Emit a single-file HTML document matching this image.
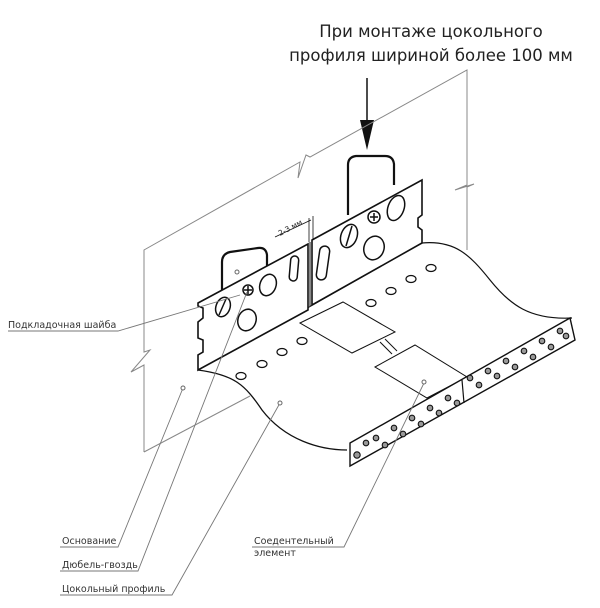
<!DOCTYPE html>
<html><head><meta charset="utf-8"><style>
html,body{margin:0;padding:0;background:#fff;width:600px;height:608px;overflow:hidden}
svg{display:block}
text{font-family:"DejaVu Sans","Liberation Sans",sans-serif}
</style></head><body>
<svg width="600" height="608" viewBox="0 0 600 608" xmlns="http://www.w3.org/2000/svg">
<text x="431" y="37" font-size="16.5" text-anchor="middle" fill="#222">При монтаже цокольного</text>
<text x="431" y="61" font-size="16.5" text-anchor="middle" fill="#222">профиля шириной более 100 мм</text>
<line x1="367" y1="78" x2="367" y2="125" stroke="#111" stroke-width="1.5"/>
<polygon points="360,120 374,120 367,150" fill="#111"/>
<g fill="none" stroke="#888" stroke-width="1">
<polyline points="144,452 144,365 131,372 150,350 144,352 144,250 300,162 298,178 306,155 310,157 467,70 467,185 455,190 474,184 467,187 467,250"/>
<line x1="144" y1="452" x2="250" y2="396"/>
</g>
<path d="M198,370 C235,375 245,385 262,410 C285,440 320,450 347,450" fill="none" stroke="#111" stroke-width="1.3"/>
<path d="M422,243 C455,240 470,255 490,280 C510,305 530,320 572,318" fill="none" stroke="#111" stroke-width="1.2"/>
<line x1="198" y1="370" x2="422" y2="243" stroke="#111" stroke-width="1"/>
<g fill="#fff" stroke="#111" stroke-width="1.2">
<ellipse cx="241" cy="376" rx="5" ry="3.5"/><ellipse cx="262" cy="364" rx="5" ry="3.5"/><ellipse cx="282" cy="352" rx="5" ry="3.5"/><ellipse cx="302" cy="341" rx="5" ry="3.5"/>
<ellipse cx="371" cy="303" rx="5" ry="3.5"/><ellipse cx="391" cy="291" rx="5" ry="3.5"/><ellipse cx="411" cy="279" rx="5" ry="3.5"/><ellipse cx="431" cy="268" rx="5" ry="3.5"/>
</g>
<g fill="#fff" stroke="#111" stroke-width="1">
<polygon points="300,323 343,302 395,332 352,353"/>
<line x1="380" y1="342" x2="392" y2="354"/><line x1="385" y1="339" x2="397" y2="351"/>
<polygon points="375,367 415,345 467,377 427,398"/>
</g>
<path d="M222,290 L222,262 Q222,254 230,252 L258,248 Q266,247 267,255 L267,275" fill="none" stroke="#111" stroke-width="2.2"/>
<path d="M198,303 L308,244 L308,310 L198,370 L198,355 L203,352 L203,340 L198,338 L198,322 L203,318 L203,308 L198,306 Z" fill="#fff" stroke="#111" stroke-width="1.6"/>
<g fill="#fff" stroke="#111" stroke-width="1.5">
<ellipse cx="223" cy="307" rx="7" ry="10" transform="rotate(20 223 307)"/>
<line x1="219" y1="315" x2="226" y2="299"/>
<circle cx="248" cy="290" r="5"/>
<line x1="244" y1="290" x2="252" y2="290"/><line x1="248" y1="286" x2="248" y2="294"/>
<ellipse cx="268" cy="285" rx="8" ry="11" transform="rotate(20 268 285)"/>
<ellipse cx="247" cy="320" rx="9" ry="11" transform="rotate(20 247 320)"/>
<rect x="290" y="256" width="8" height="25" rx="4" transform="rotate(5 294 268)"/>
</g>
<path d="M348,215 L348,165 Q348,157 356,156 L385,156 Q393,156 394,164 L394,185" fill="none" stroke="#111" stroke-width="2.2"/>
<path d="M312,240 L422,180 L422,215 L418,218 L418,227 L422,230 L422,243 L312,305 Z" fill="#fff" stroke="#111" stroke-width="1.6"/>
<line x1="310" y1="242" x2="310" y2="306" stroke="#111" stroke-width="1"/>
<g fill="#fff" stroke="#111" stroke-width="1.5">
<rect x="318" y="246" width="10" height="34" rx="5" transform="rotate(8 323 263)"/>
<ellipse cx="349" cy="236" rx="8" ry="12" transform="rotate(20 349 236)"/>
<line x1="346" y1="246" x2="352" y2="226"/>
<circle cx="374" cy="217" r="6"/>
<line x1="370" y1="217" x2="378" y2="217"/><line x1="374" y1="213" x2="374" y2="221"/>
<ellipse cx="396" cy="208" rx="8" ry="13" transform="rotate(20 396 208)"/>
<ellipse cx="374" cy="248" rx="10" ry="12" transform="rotate(20 374 248)"/>
</g>
<line x1="309" y1="218" x2="309" y2="242" stroke="#111" stroke-width="0.8"/>
<line x1="313" y1="216" x2="313" y2="240" stroke="#111" stroke-width="0.8"/>
<line x1="275" y1="237" x2="311" y2="220" stroke="#111" stroke-width="0.8"/>
<text x="280" y="236" font-size="7.5" fill="#222" transform="rotate(-28 280 236)">2-3 мм</text>
<polygon points="350,443 570,318 575,340 350,466" fill="#fff" stroke="#111" stroke-width="1.4"/>
<line x1="462" y1="380" x2="464" y2="403" stroke="#111" stroke-width="1.2"/>
<g fill="#999" stroke="#111" stroke-width="1.1">
<circle cx="357" cy="455" r="3.2"/><circle cx="366" cy="443" r="2.8"/><circle cx="376" cy="438" r="2.8"/><circle cx="385" cy="445" r="2.8"/><circle cx="394" cy="428" r="2.8"/><circle cx="403" cy="434" r="2.8"/><circle cx="412" cy="418" r="2.8"/><circle cx="421" cy="424" r="2.8"/><circle cx="430" cy="408" r="2.8"/><circle cx="439" cy="413" r="2.8"/><circle cx="448" cy="398" r="2.8"/><circle cx="457" cy="403" r="2.8"/>
<circle cx="470" cy="378" r="2.8"/><circle cx="479" cy="385" r="2.8"/><circle cx="488" cy="371" r="2.8"/><circle cx="497" cy="376" r="2.8"/><circle cx="506" cy="361" r="2.8"/><circle cx="515" cy="367" r="2.8"/><circle cx="524" cy="351" r="2.8"/><circle cx="533" cy="357" r="2.8"/><circle cx="542" cy="341" r="2.8"/><circle cx="551" cy="347" r="2.8"/><circle cx="560" cy="331" r="2.8"/><circle cx="566" cy="336" r="2.8"/>
</g>
<g fill="none" stroke="#777" stroke-width="0.9">
<polyline points="8,331 118,331 240,295"/>
<polyline points="60,547 118,547 183,388"/>
<polyline points="60,571 138,571 247,292"/>
<polyline points="60,595 172,595 280,403"/>
<polyline points="252,547 344,547 424,383"/>
</g>
<g fill="#fff" stroke="#666" stroke-width="1">
<circle cx="183" cy="388" r="2"/><circle cx="280" cy="403" r="2"/><circle cx="424" cy="382" r="2"/><circle cx="237" cy="272" r="2"/>
</g>
<g font-size="9.5" fill="#333">
<text x="8" y="328">Подкладочная шайба</text>
<text x="62" y="544">Основание</text>
<text x="62" y="568">Дюбель-гвоздь</text>
<text x="62" y="592">Цокольный профиль</text>
<text x="254" y="544">Соедентельный</text>
<text x="254" y="556">элемент</text>
</g>
</svg>
</body></html>
